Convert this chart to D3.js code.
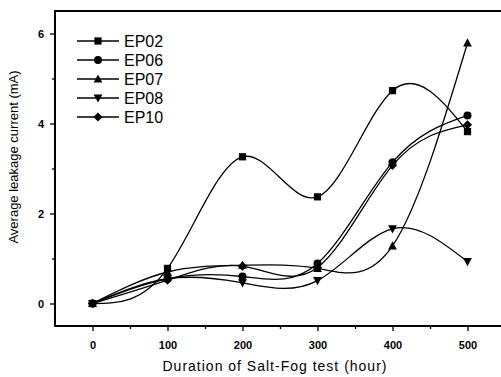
<!DOCTYPE html>
<meta charset="utf-8">
<head>
<script src="https://d3js.org/d3.v7.min.js"></script>
<style>
  body { margin: 0; background: #fff; }
  text { font-family: "Liberation Sans", Arial, sans-serif; fill: #000; }
</style>
</head>
<body>
<div id="chart"></div>
<script>
// data
var hours = [0, 100, 200, 300, 400, 500];
var ep02 = [0, 0.78, 3.26, 2.37, 4.73, 3.82];
var ep06 = [0, 0.55, 0.6, 0.89, 3.14, 4.18];
var ep07 = [0, 0.7, 0.85, 0.78, 1.28, 5.79];
var ep08 = [0, 0.55, 0.46, 0.51, 1.66, 0.93];
var ep10 = [0, 0.52, 0.83, 0.8, 3.07, 3.97];
var names = ["EP02", "EP06", "EP07", "EP08", "EP10"];
var symbols = ["square", "circle", "up", "down", "diamond"];
var xTicks = [0, 100, 200, 300, 400, 500];
var yTicks = [0, 2, 4, 6];

var series = [ep02, ep06, ep07, ep08, ep10];

var W = 501, H = 377;
var svg = d3.select("#chart").append("svg")
    .attr("width", W).attr("height", H);

var x = d3.scaleLinear().domain([-50, 550]).range([55, 505]);
var y = d3.scaleLinear().domain([-0.5, 6.5]).range([326, 11]);

// frame (right side falls just outside the picture)
svg.append("rect")
    .attr("x", x(-50)).attr("y", y(6.5))
    .attr("width", x(550) - x(-50) + 4).attr("height", y(-0.5) - y(6.5))
    .attr("fill", "none").attr("stroke", "#000").attr("stroke-width", 2);

// x axis
var xa = svg.append("g").attr("transform", "translate(0," + y(-0.5) + ")")
    .call(d3.axisBottom(x).tickValues(xTicks).tickSize(5).tickPadding(10).tickFormat(d3.format("d")));
xa.select(".domain").remove();
svg.append("g").attr("transform", "translate(0," + y(-0.5) + ")")
    .call(d3.axisBottom(x).tickValues([50, 150, 250, 350, 450]).tickSize(3).tickFormat(""))
    .select(".domain").remove();

// y axis
var ya = svg.append("g").attr("transform", "translate(" + x(-50) + ",0)")
    .call(d3.axisLeft(y).tickValues(yTicks).tickSize(5).tickPadding(6).tickFormat(d3.format("d")));
ya.select(".domain").remove();
svg.append("g").attr("transform", "translate(" + x(-50) + ",0)")
    .call(d3.axisLeft(y).tickValues([1, 3, 5]).tickSize(3).tickFormat(""))
    .select(".domain").remove();

svg.selectAll(".tick line").attr("stroke", "#000").attr("stroke-width", 1.3);
svg.selectAll(".tick text").style("font-size", "11px").style("font-weight", "bold")
    .style("font-family", "'Liberation Sans', Arial, sans-serif").attr("fill", "#000");

// axis titles
svg.append("text")
    .attr("x", 275).attr("y", 371)
    .style("text-anchor", "middle").style("font-size", "14px").style("letter-spacing", "1px")
    .text("Duration of Salt-Fog test (hour)");
svg.append("text")
    .attr("transform", "translate(18,157) rotate(-90)")
    .style("text-anchor", "middle").style("font-size", "13px")
    .text("Average leakage current (mA)");

function marker(g, type, cx, cy) {
  var s = 3.6;
  if (type == "square") {
    g.append("rect").attr("x", cx - s).attr("y", cy - s).attr("width", 2 * s).attr("height", 2 * s);
  } else if (type == "circle") {
    g.append("circle").attr("cx", cx).attr("cy", cy).attr("r", s + 0.4);
  } else if (type == "up") {
    g.append("path").attr("d", "M" + cx + "," + (cy - s - 1) + "L" + (cx + s + 0.8) + "," + (cy + s) + "L" + (cx - s - 0.8) + "," + (cy + s) + "Z");
  } else if (type == "down") {
    g.append("path").attr("d", "M" + cx + "," + (cy + s + 1) + "L" + (cx + s + 0.8) + "," + (cy - s) + "L" + (cx - s - 0.8) + "," + (cy - s) + "Z");
  } else {
    g.append("path").attr("d", "M" + cx + "," + (cy - s - 1) + "L" + (cx + s + 1) + "," + cy + "L" + cx + "," + (cy + s + 1) + "L" + (cx - s - 1) + "," + cy + "Z");
  }
}

var line = d3.line()
    .x(function(d, i) { return x(hours[i]); })
    .y(function(d) { return y(d); })
    .curve(d3.curveNatural);

series.forEach(function(vals, k) {
  svg.append("path").datum(vals)
      .attr("d", line)
      .attr("fill", "none").attr("stroke", "#000").attr("stroke-width", 1.3);
  var g = svg.append("g").attr("fill", "#000");
  vals.forEach(function(v, i) { marker(g, symbols[k], x(hours[i]), y(v)); });
});

// legend
names.forEach(function(n, k) {
  var ly = 41 + k * 19;
  svg.append("line").attr("x1", 77).attr("x2", 119).attr("y1", ly).attr("y2", ly)
      .attr("stroke", "#000").attr("stroke-width", 1.3);
  marker(svg.append("g").attr("fill", "#000"), symbols[k], 98, ly);
  svg.append("text").attr("x", 124).attr("y", ly + 6)
      .style("font-size", "16px").text(n);
});
</script>
</body>
